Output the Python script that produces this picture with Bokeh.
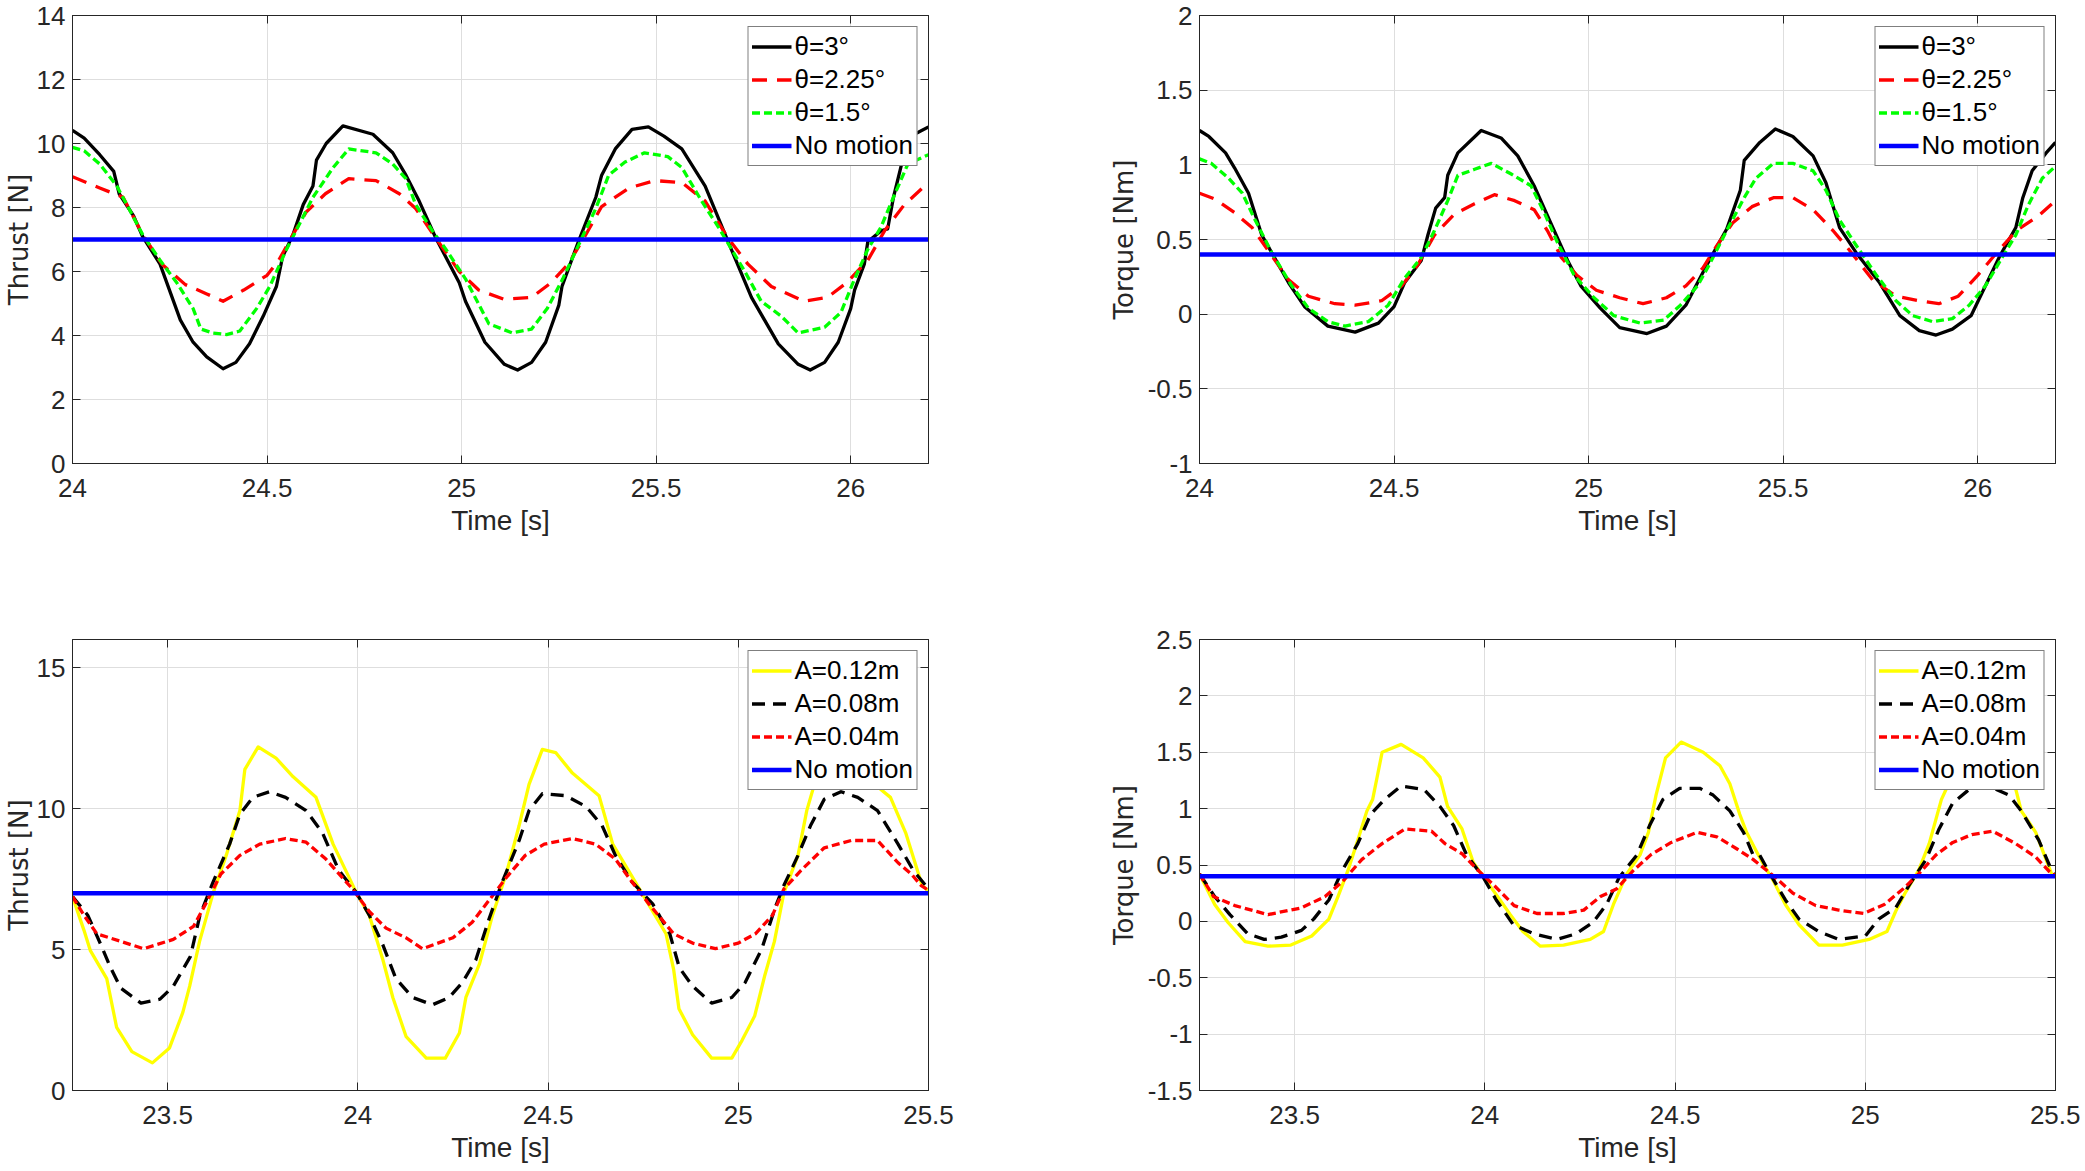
from bokeh.plotting import figure
from bokeh.layouts import column, row
from bokeh.models import FixedTicker, LinearAxis, CustomJSTickFormatter, Range1d
from bokeh.embed import file_html
from bokeh.resources import INLINE

# ---------------- data ----------------
# Top row: pitch amplitude theta, x = time [s]
thrust_theta3 = [(24.0, 10.41), (24.03, 10.17), (24.07, 9.65), (24.106, 9.13), (24.12, 8.43), (24.157, 7.74),
                 (24.18, 7.1), (24.225, 6.23), (24.277, 4.49), (24.31, 3.79), (24.345, 3.33), (24.387, 2.96),
                 (24.42, 3.16), (24.455, 3.74), (24.49, 4.6), (24.524, 5.53), (24.54, 6.46), (24.567, 7.16),
                 (24.593, 8.09), (24.618, 8.67), (24.627, 9.48), (24.652, 10.0), (24.695, 10.55), (24.772, 10.29),
                 (24.823, 9.71), (24.857, 9.01), (24.891, 8.2), (24.934, 7.04), (24.994, 5.65), (25.01, 5.07),
                 (25.06, 3.79), (25.11, 3.1), (25.144, 2.92), (25.18, 3.16), (25.216, 3.79), (25.25, 4.95),
                 (25.258, 5.53), (25.30, 6.93), (25.345, 8.32), (25.36, 9.01), (25.395, 9.83), (25.438, 10.44),
                 (25.48, 10.52), (25.52, 10.23), (25.566, 9.83), (25.626, 8.67), (25.685, 6.93), (25.745, 5.19),
                 (25.814, 3.74), (25.865, 3.1), (25.896, 2.92), (25.933, 3.16), (25.968, 3.79), (26.0, 4.84),
                 (26.01, 5.42), (26.035, 6.23), (26.044, 6.93), (26.078, 7.27), (26.095, 7.33), (26.11, 8.32),
                 (26.138, 9.71), (26.164, 10.29), (26.2, 10.52)]
thrust_theta225 = [(24.0, 8.96), (24.07, 8.61), (24.13, 8.32), (24.18, 7.16), (24.23, 6.23), (24.29, 5.59),
                   (24.345, 5.3), (24.387, 5.07), (24.44, 5.42), (24.5, 5.88), (24.53, 6.35), (24.567, 7.16),
                   (24.6, 7.85), (24.65, 8.43), (24.71, 8.9), (24.78, 8.84), (24.84, 8.43), (24.882, 7.97),
                   (24.934, 7.04), (24.994, 6.0), (25.044, 5.42), (25.11, 5.13), (25.18, 5.19), (25.23, 5.65),
                   (25.274, 6.23), (25.317, 7.1), (25.36, 8.03), (25.43, 8.61), (25.497, 8.84), (25.566, 8.78),
                   (25.626, 8.2), (25.685, 7.04), (25.736, 6.23), (25.796, 5.53), (25.88, 5.07), (25.94, 5.19),
                   (25.99, 5.65), (26.044, 6.35), (26.087, 7.27), (26.138, 8.09), (26.2, 8.78)]
thrust_theta15 = [(24.0, 9.88), (24.03, 9.77), (24.07, 9.36), (24.114, 8.67), (24.15, 7.85), (24.18, 7.16),
                  (24.225, 6.35), (24.268, 5.65), (24.31, 4.84), (24.33, 4.2), (24.36, 4.08), (24.396, 4.03),
                  (24.43, 4.14), (24.473, 4.84), (24.507, 5.53), (24.55, 6.69), (24.584, 7.5), (24.618, 8.32),
                  (24.67, 9.25), (24.71, 9.83), (24.78, 9.71), (24.823, 9.36), (24.857, 8.9), (24.882, 8.09),
                  (24.925, 7.27), (24.96, 6.69), (25.01, 5.77), (25.07, 4.37), (25.13, 4.08), (25.18, 4.2),
                  (25.22, 4.84), (25.26, 5.77), (25.30, 6.81), (25.345, 7.97), (25.378, 9.01), (25.42, 9.42),
                  (25.47, 9.71), (25.53, 9.59), (25.566, 9.25), (25.617, 8.2), (25.66, 7.39), (25.694, 6.69),
                  (25.728, 6.0), (25.77, 5.07), (25.822, 4.6), (25.865, 4.08), (25.933, 4.26), (25.975, 4.72),
                  (26.01, 5.77), (26.044, 6.69), (26.078, 7.39), (26.11, 8.32), (26.147, 9.36), (26.2, 9.65)]

torque_theta3 = [(24.0, 1.23), (24.024, 1.19), (24.067, 1.08), (24.09, 0.98), (24.126, 0.81), (24.16, 0.53),
                 (24.186, 0.41), (24.229, 0.21), (24.27, 0.05), (24.33, -0.08), (24.4, -0.12), (24.46, -0.06),
                 (24.5, 0.05), (24.527, 0.21), (24.57, 0.36), (24.587, 0.53), (24.607, 0.71), (24.63, 0.78),
                 (24.638, 0.93), (24.664, 1.08), (24.724, 1.23), (24.775, 1.18), (24.818, 1.06), (24.86, 0.86),
                 (24.903, 0.61), (24.946, 0.36), (24.98, 0.19), (25.03, 0.04), (25.08, -0.09), (25.15, -0.13),
                 (25.2, -0.08), (25.25, 0.06), (25.28, 0.21), (25.31, 0.36), (25.355, 0.57), (25.39, 0.83),
                 (25.4, 1.03), (25.44, 1.15), (25.48, 1.24), (25.525, 1.19), (25.577, 1.06), (25.61, 0.88),
                 (25.645, 0.58), (25.688, 0.41), (25.748, 0.21), (25.8, -0.01), (25.85, -0.11), (25.893, -0.14),
                 (25.935, -0.1), (25.983, -0.01), (26.02, 0.19), (26.055, 0.38), (26.098, 0.58), (26.116, 0.78),
                 (26.14, 0.96), (26.176, 1.08), (26.2, 1.15)]
torque_theta225 = [(24.0, 0.81), (24.04, 0.77), (24.09, 0.68), (24.135, 0.58), (24.178, 0.42), (24.229, 0.23),
                   (24.28, 0.12), (24.348, 0.07), (24.4, 0.06), (24.468, 0.09), (24.52, 0.19), (24.561, 0.33),
                   (24.604, 0.53), (24.655, 0.67), (24.707, 0.74), (24.758, 0.8), (24.81, 0.76), (24.86, 0.7),
                   (24.894, 0.56), (24.93, 0.38), (24.97, 0.26), (25.02, 0.16), (25.08, 0.11), (25.14, 0.07),
                   (25.2, 0.11), (25.25, 0.19), (25.294, 0.31), (25.33, 0.46), (25.37, 0.61), (25.42, 0.72),
                   (25.475, 0.78), (25.525, 0.78), (25.577, 0.7), (25.628, 0.56), (25.67, 0.43), (25.73, 0.23),
                   (25.79, 0.12), (25.85, 0.09), (25.9, 0.07), (25.95, 0.12), (26.0, 0.26), (26.055, 0.43),
                   (26.1, 0.56), (26.157, 0.66), (26.2, 0.76)]
torque_theta15 = [(24.0, 1.04), (24.03, 1.01), (24.075, 0.91), (24.11, 0.81), (24.143, 0.63), (24.186, 0.41),
                  (24.237, 0.19), (24.28, 0.04), (24.33, -0.05), (24.374, -0.08), (24.434, -0.05), (24.485, 0.06),
                  (24.527, 0.24), (24.57, 0.38), (24.604, 0.56), (24.638, 0.76), (24.664, 0.93), (24.707, 0.97),
                  (24.75, 1.01), (24.8, 0.94), (24.852, 0.86), (24.886, 0.68), (24.92, 0.48), (24.963, 0.26),
                  (25.014, 0.11), (25.065, -0.01), (25.133, -0.06), (25.193, -0.04), (25.236, 0.06), (25.28, 0.19),
                  (25.31, 0.33), (25.355, 0.56), (25.4, 0.78), (25.43, 0.91), (25.475, 1.01), (25.525, 1.01),
                  (25.577, 0.96), (25.61, 0.83), (25.645, 0.63), (25.688, 0.46), (25.74, 0.26), (25.79, 0.09),
                  (25.833, -0.01), (25.884, -0.05), (25.935, -0.03), (25.978, 0.06), (26.02, 0.19), (26.063, 0.38),
                  (26.098, 0.53), (26.13, 0.73), (26.166, 0.91), (26.2, 0.99)]

# Bottom row: heave amplitude A
thrust_a012 = [(23.25, 6.88), (23.28, 5.69), (23.297, 4.96), (23.34, 3.97), (23.366, 2.24), (23.406, 1.38),
               (23.46, 0.98), (23.505, 1.51), (23.54, 2.77), (23.558, 3.7), (23.584, 5.29), (23.62, 7.02),
               (23.654, 8.34), (23.69, 9.93), (23.703, 11.39), (23.738, 12.19), (23.785, 11.79), (23.83, 11.13),
               (23.89, 10.4), (23.935, 8.74), (23.996, 7.02), (24.03, 6.22), (24.066, 4.63), (24.092, 3.3),
               (24.127, 1.91), (24.18, 1.15), (24.23, 1.15), (24.267, 2.04), (24.284, 3.3), (24.32, 4.5),
               (24.354, 6.22), (24.39, 7.68), (24.424, 9.4), (24.45, 10.86), (24.485, 12.1), (24.52, 11.99),
               (24.564, 11.26), (24.634, 10.46), (24.67, 8.74), (24.74, 7.15), (24.81, 5.56), (24.83, 4.3),
               (24.844, 2.9), (24.88, 1.98), (24.93, 1.15), (24.983, 1.15), (25.01, 1.78), (25.043, 2.64),
               (25.07, 4.1), (25.095, 5.29), (25.12, 7.02), (25.157, 8.34), (25.18, 9.93), (25.2, 10.86),
               (25.22, 11.9), (25.245, 12.1), (25.29, 11.8), (25.33, 11.2), (25.37, 10.73), (25.4, 10.4),
               (25.44, 9.14), (25.483, 7.28), (25.5, 7.08)]
thrust_a008 = [(23.25, 6.88), (23.29, 6.22), (23.325, 5.16), (23.35, 4.36), (23.377, 3.63), (23.43, 3.1),
               (23.48, 3.24), (23.515, 3.7), (23.56, 4.76), (23.585, 6.22), (23.62, 7.41), (23.663, 8.74),
               (23.69, 9.8), (23.724, 10.4), (23.768, 10.6), (23.81, 10.4), (23.864, 9.93), (23.907, 9.14),
               (23.95, 7.81), (23.996, 7.02), (24.03, 6.22), (24.066, 5.16), (24.1, 3.97), (24.144, 3.3),
               (24.196, 3.04), (24.24, 3.3), (24.275, 3.83), (24.31, 4.63), (24.345, 6.09), (24.38, 7.41),
               (24.424, 8.87), (24.45, 9.93), (24.485, 10.53), (24.546, 10.46), (24.6, 10.07), (24.642, 9.4),
               (24.677, 8.34), (24.72, 7.41), (24.775, 6.62), (24.82, 5.56), (24.845, 4.36), (24.88, 3.7),
               (24.93, 3.1), (24.983, 3.3), (25.018, 3.83), (25.062, 5.03), (25.097, 6.49), (25.12, 7.28),
               (25.157, 8.34), (25.19, 9.4), (25.226, 10.33), (25.27, 10.6), (25.314, 10.4), (25.366, 9.93),
               (25.42, 8.74), (25.46, 7.81), (25.5, 7.15)]
thrust_a004 = [(23.25, 6.88), (23.28, 6.22), (23.314, 5.56), (23.377, 5.29), (23.437, 5.03), (23.515, 5.36),
               (23.568, 5.82), (23.6, 6.62), (23.64, 7.68), (23.69, 8.34), (23.742, 8.74), (23.81, 8.94),
               (23.864, 8.81), (23.916, 8.21), (23.986, 7.15), (24.03, 6.35), (24.074, 5.76), (24.126, 5.42),
               (24.17, 5.03), (24.25, 5.42), (24.3, 5.96), (24.345, 6.75), (24.39, 7.55), (24.44, 8.34),
               (24.49, 8.74), (24.564, 8.94), (24.625, 8.74), (24.677, 8.21), (24.72, 7.41), (24.765, 6.62),
               (24.83, 5.56), (24.88, 5.23), (24.94, 5.03), (25.0, 5.23), (25.045, 5.56), (25.09, 6.22),
               (25.12, 7.15), (25.165, 7.81), (25.226, 8.61), (25.297, 8.87), (25.366, 8.87), (25.42, 8.08),
               (25.455, 7.68), (25.48, 7.28), (25.5, 7.1)]

torque_a012 = [(23.25, 0.42), (23.29, 0.15), (23.325, -0.01), (23.37, -0.18), (23.43, -0.22), (23.49, -0.21),
               (23.545, -0.13), (23.59, 0.02), (23.614, 0.22), (23.64, 0.45), (23.666, 0.72), (23.69, 0.98),
               (23.705, 1.08), (23.73, 1.5), (23.78, 1.57), (23.838, 1.45), (23.882, 1.28), (23.902, 1.02),
               (23.94, 0.82), (23.97, 0.52), (24.006, 0.35), (24.04, 0.19), (24.067, 0.06), (24.1, -0.09),
               (24.146, -0.22), (24.207, -0.21), (24.277, -0.16), (24.312, -0.09), (24.338, 0.15), (24.373, 0.42),
               (24.408, 0.59), (24.43, 0.79), (24.45, 1.12), (24.475, 1.45), (24.516, 1.59), (24.574, 1.5),
               (24.618, 1.38), (24.644, 1.22), (24.67, 0.95), (24.688, 0.79), (24.714, 0.62), (24.73, 0.52),
               (24.76, 0.35), (24.79, 0.15), (24.826, -0.03), (24.878, -0.21), (24.94, -0.21), (25.01, -0.16),
               (25.057, -0.09), (25.08, 0.09), (25.106, 0.26), (25.14, 0.45), (25.168, 0.69), (25.2, 1.08),
               (25.23, 1.3), (25.255, 1.52), (25.29, 1.57), (25.33, 1.48), (25.37, 1.3), (25.395, 1.18),
               (25.41, 0.98), (25.448, 0.79), (25.475, 0.55), (25.49, 0.42), (25.5, 0.4)]
torque_a008 = [(23.25, 0.42), (23.29, 0.22), (23.33, 0.06), (23.377, -0.11), (23.42, -0.16), (23.465, -0.14),
               (23.518, -0.08), (23.55, 0.02), (23.59, 0.19), (23.625, 0.45), (23.666, 0.69), (23.7, 0.95),
               (23.736, 1.08), (23.78, 1.2), (23.84, 1.17), (23.882, 1.02), (23.918, 0.85), (23.952, 0.59),
               (23.996, 0.39), (24.03, 0.19), (24.075, -0.03), (24.128, -0.11), (24.19, -0.16), (24.24, -0.11),
               (24.284, -0.01), (24.32, 0.15), (24.353, 0.39), (24.4, 0.59), (24.433, 0.85), (24.468, 1.08),
               (24.512, 1.18), (24.565, 1.18), (24.6, 1.12), (24.644, 0.98), (24.68, 0.79), (24.705, 0.59),
               (24.722, 0.59), (24.75, 0.42), (24.79, 0.19), (24.826, 0.02), (24.878, -0.09), (24.93, -0.16),
               (25.0, -0.13), (25.035, 0.02), (25.08, 0.12), (25.115, 0.32), (25.16, 0.55), (25.194, 0.82),
               (25.23, 1.05), (25.273, 1.17), (25.325, 1.2), (25.378, 1.12), (25.41, 0.98), (25.456, 0.72),
               (25.49, 0.45), (25.5, 0.41)]
torque_a004 = [(23.25, 0.42), (23.287, 0.22), (23.343, 0.14), (23.43, 0.06), (23.518, 0.12), (23.58, 0.22),
               (23.625, 0.35), (23.677, 0.55), (23.73, 0.69), (23.79, 0.82), (23.86, 0.8), (23.895, 0.69),
               (23.94, 0.6), (23.983, 0.45), (24.024, 0.32), (24.077, 0.14), (24.137, 0.07), (24.207, 0.07),
               (24.26, 0.1), (24.304, 0.22), (24.347, 0.29), (24.39, 0.45), (24.436, 0.59), (24.49, 0.7),
               (24.558, 0.79), (24.61, 0.75), (24.664, 0.64), (24.705, 0.55), (24.76, 0.4), (24.81, 0.25),
               (24.87, 0.14), (24.93, 0.1), (24.995, 0.07), (25.05, 0.15), (25.1, 0.29), (25.14, 0.42),
               (25.186, 0.59), (25.23, 0.7), (25.28, 0.77), (25.335, 0.8), (25.395, 0.69), (25.448, 0.57),
               (25.49, 0.42), (25.5, 0.41)]

no_motion_thrust = 7.0
no_motion_torque = 0.4

top_time_range = (24.0, 26.2)
bottom_time_range = (23.25, 25.5)
top_time_ticks = [24, 24.5, 25, 25.5, 26]
bottom_time_ticks = [23.5, 24, 24.5, 25, 25.5]
thrust_top_ticks = [0, 2, 4, 6, 8, 10, 12, 14]
torque_top_ticks = [-1, -0.5, 0, 0.5, 1, 1.5, 2]
thrust_bottom_ticks = [0, 5, 10, 15]
torque_bottom_ticks = [-1.5, -1, -0.5, 0, 0.5, 1, 1.5, 2, 2.5]

theta_labels = ["θ=3°", "θ=2.25°", "θ=1.5°", "No motion"]
amp_labels = ["A=0.12m", "A=0.08m", "A=0.04m", "No motion"]

# ---------------- styling ----------------
FONT = "Liberation Sans"
YFONT = "DejaVu Sans"
TXT = "#262626"
GRID = "#dedede"


def fmt(v):
    return ("%g" % v)


def style_axis(ax, ticks, labels=True):
    ax.ticker = FixedTicker(ticks=ticks)
    ax.major_tick_in = 8
    ax.major_tick_out = 0
    ax.minor_tick_line_color = None
    ax.axis_line_color = TXT
    ax.major_tick_line_color = TXT
    ax.major_label_text_font = FONT
    ax.major_label_text_font_size = "26px"
    ax.major_label_text_color = TXT
    if labels:
        ax.major_label_overrides = {float(t): fmt(t) for t in ticks}
    else:
        ax.formatter = CustomJSTickFormatter(code="return ''")
        ax.major_label_standoff = 0


def make_fig(width, height, bl, br, bt, bb, xr, yr, xticks, yticks, ylabel, ylab_standoff):
    p = figure(width=width, height=height, output_backend="svg", toolbar_location=None,
               x_range=Range1d(*xr), y_range=Range1d(*yr),
               min_border_left=bl, min_border_right=br, min_border_top=bt, min_border_bottom=bb)
    p.background_fill_color = "white"
    p.border_fill_color = "white"
    p.outline_line_color = TXT
    style_axis(p.xaxis[0], xticks)
    style_axis(p.yaxis[0], yticks)
    p.xaxis[0].major_label_standoff = 15
    p.yaxis[0].major_label_standoff = 7
    p.xaxis[0].axis_label = "Time [s]"
    p.xaxis[0].axis_label_text_font = FONT
    p.xaxis[0].axis_label_text_font_size = "28px"
    p.xaxis[0].axis_label_text_font_style = "normal"
    p.xaxis[0].axis_label_text_color = TXT
    p.xaxis[0].axis_label_standoff = 5
    p.yaxis[0].axis_label = ylabel
    p.yaxis[0].axis_label_text_font = YFONT
    p.yaxis[0].axis_label_text_font_size = "26px"
    p.yaxis[0].axis_label_text_font_style = "normal"
    p.yaxis[0].axis_label_text_color = TXT
    p.yaxis[0].axis_label_standoff = ylab_standoff
    top = LinearAxis()
    style_axis(top, xticks, labels=False)
    p.add_layout(top, "above")
    right = LinearAxis()
    style_axis(right, yticks, labels=False)
    p.add_layout(right, "right")
    p.xgrid.ticker = FixedTicker(ticks=xticks)
    p.ygrid.ticker = FixedTicker(ticks=yticks)
    for g in (p.xgrid, p.ygrid):
        g.grid_line_color = GRID
        g.grid_line_width = 1
    return p


def add_series(p, series, labels, colors, dashes, xr, const):
    for data, lab, col, dash in zip(series, labels[:3], colors, dashes):
        xs = [d[0] for d in data]
        ys = [d[1] for d in data]
        p.line(xs, ys, line_color=col, line_width=3.3, line_dash=dash, line_join="round",
               legend_label=lab)
    p.line(list(xr), [const, const], line_color="#0000ff", line_width=4.5, legend_label=labels[3])
    lg = p.legend[0]
    lg.location = "top_right"
    lg.margin = 11
    lg.padding = 3
    lg.spacing = 0
    lg.label_height = 33
    lg.glyph_height = 33
    lg.glyph_width = 40
    lg.label_standoff = 3
    lg.border_line_color = "black"
    lg.border_line_width = 1
    lg.background_fill_color = "white"
    lg.background_fill_alpha = 1.0
    lg.label_text_font = FONT
    lg.label_text_font_size = "26px"
    lg.label_text_color = "black"


theta_colors = ["black", "#ff0000", "#00ff00"]
theta_dashes = ["solid", "15 10", "8 4"]
amp_colors = ["#ffff00", "black", "#ff0000"]
amp_dashes = ["solid", "13 8", "8 4"]

LW, RW = 1040, 1040
TH, BH = 578, 593

p1 = make_fig(LW, TH, 72, 112, 15, 115, top_time_range, (0, 14), top_time_ticks, thrust_top_ticks,
              "Thrust [N]", 0)
add_series(p1, [thrust_theta3, thrust_theta225, thrust_theta15], theta_labels, theta_colors, theta_dashes,
           top_time_range, no_motion_thrust)

p2 = make_fig(RW, TH, 159, 25, 15, 115, top_time_range, (-1, 2), top_time_ticks, torque_top_ticks,
              "Torque [Nm]", 6)
add_series(p2, [torque_theta3, torque_theta225, torque_theta15], theta_labels, theta_colors, theta_dashes,
           top_time_range, no_motion_torque)

p3 = make_fig(LW, BH, 72, 112, 61, 81, bottom_time_range, (0, 16), bottom_time_ticks, thrust_bottom_ticks,
              "Thrust [N]", 0)
add_series(p3, [thrust_a012, thrust_a008, thrust_a004], amp_labels, amp_colors, amp_dashes,
           bottom_time_range, no_motion_thrust)

p4 = make_fig(RW, BH, 159, 25, 61, 81, bottom_time_range, (-1.5, 2.5), bottom_time_ticks, torque_bottom_ticks,
              "Torque [Nm]", 6)
add_series(p4, [torque_a012, torque_a008, torque_a004], amp_labels, amp_colors, amp_dashes,
           bottom_time_range, no_motion_torque)

layout = column(row(p1, p2), row(p3, p4))
open("out.html", "w").write(file_html(layout, INLINE))
